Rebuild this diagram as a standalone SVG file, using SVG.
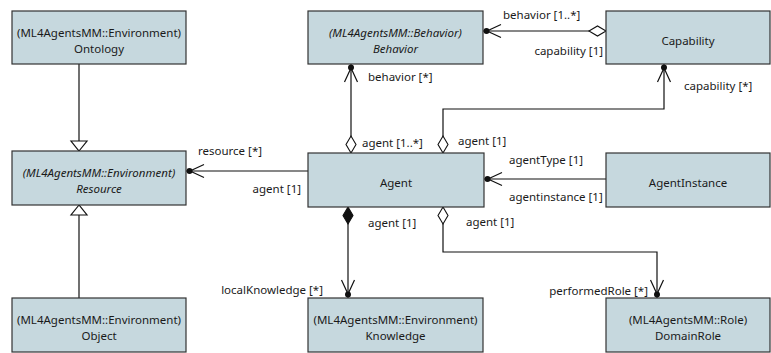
<svg xmlns="http://www.w3.org/2000/svg" width="771" height="353" viewBox="0 0 771 353">
<defs>
<style>
.box{fill:#c6d8de;stroke:#333;stroke-width:1.2}
.t{font-family:"Noto Sans","Liberation Sans",sans-serif;font-size:11.5px;fill:#1a1a1a}
.c{text-anchor:middle}
.e{text-anchor:end}
.i{font-style:italic}
.ln{fill:none;stroke:#111;stroke-width:1.2}
</style>
<marker id="nav" markerUnits="userSpaceOnUse" viewBox="-20 -10 22 20" refX="0" refY="0" markerWidth="22" markerHeight="20" orient="auto" overflow="visible">
<circle cx="-3.5" cy="0" r="3" fill="#111"/>
<path d="M-18,-6.5 L-4,0 L-18,6.5" fill="none" stroke="#111" stroke-width="1.2"/>
</marker>
<marker id="od" markerUnits="userSpaceOnUse" viewBox="-1 -7 20 14" refX="0" refY="0" markerWidth="20" markerHeight="14" orient="auto" overflow="visible">
<path d="M0,0 L8.5,-5 L17,0 L8.5,5 Z" fill="#fff" stroke="#111" stroke-width="1.1"/>
</marker>
<marker id="fd" markerUnits="userSpaceOnUse" viewBox="-1 -7 20 14" refX="0" refY="0" markerWidth="20" markerHeight="14" orient="auto" overflow="visible">
<path d="M0,0 L8.5,-5 L17,0 L8.5,5 Z" fill="#111" stroke="#111" stroke-width="1.1"/>
</marker>
<marker id="gen" markerUnits="userSpaceOnUse" viewBox="-12 -10 14 20" refX="0" refY="0" markerWidth="14" markerHeight="20" orient="auto" overflow="visible">
<path d="M0,0 L-10,-8 L-10,8 Z" fill="#fff" stroke="#111" stroke-width="1.2"/>
</marker>
</defs>
<rect width="771" height="353" fill="#fff"/>
<g id="connectors">
<path class="ln" d="M79,64 L79,151" marker-end="url(#gen)"/>
<path class="ln" d="M79,298 L79,205" marker-end="url(#gen)"/>
<path class="ln" d="M606,31 L483,31" marker-start="url(#od)" marker-end="url(#nav)"/>
<path class="ln" d="M351,153 L351,64" marker-start="url(#od)" marker-end="url(#nav)"/>
<path class="ln" d="M443,153 L443,109 L664,109 L664,64" marker-start="url(#od)" marker-end="url(#nav)"/>
<path class="ln" d="M308,171 L186,171" marker-end="url(#nav)"/>
<path class="ln" d="M606,179 L484,179" marker-end="url(#nav)"/>
<path class="ln" d="M348,207 L348,298" marker-start="url(#fd)" marker-end="url(#nav)"/>
<path class="ln" d="M443,207 L443,252 L657,252 L657,298" marker-start="url(#od)" marker-end="url(#nav)"/>
<text class="t" x="503" y="19">behavior [1..*]</text>
<text class="t e" x="603" y="55">capability [1]</text>
<text class="t" x="368" y="81">behavior [*]</text>
<text class="t" x="362" y="147">agent [1..*]</text>
<text class="t" x="458" y="145">agent [1]</text>
<text class="t" x="684" y="90">capability [*]</text>
<text class="t" x="198" y="155">resource [*]</text>
<text class="t e" x="301" y="193">agent [1]</text>
<text class="t" x="509" y="164">agentType [1]</text>
<text class="t" x="509" y="201">agentinstance [1]</text>
<text class="t" x="368" y="227">agent [1]</text>
<text class="t" x="466" y="226">agent [1]</text>
<text class="t e" x="323" y="294">localKnowledge [*]</text>
<text class="t e" x="648" y="295">performedRole [*]</text>
</g>
<g id="ontology"><rect class="box" x="12" y="11" width="174" height="53"/>
<text class="t c" x="99" y="37">(ML4AgentsMM::Environment)</text><text class="t c" x="99" y="53">Ontology</text></g>
<g id="resource"><rect class="box" x="12" y="151" width="174" height="54"/>
<text class="t c i" x="99" y="177">(ML4AgentsMM::Environment)</text><text class="t c i" x="99" y="193">Resource</text></g>
<g id="object"><rect class="box" x="12" y="298" width="174" height="54"/>
<text class="t c" x="99" y="324">(ML4AgentsMM::Environment)</text><text class="t c" x="99" y="340">Object</text></g>
<g id="behavior"><rect class="box" x="308" y="11" width="175" height="53"/>
<text class="t c i" x="395.5" y="37">(ML4AgentsMM::Behavior)</text><text class="t c i" x="395.5" y="53">Behavior</text></g>
<g id="agent"><rect class="box" x="308" y="153" width="176" height="54"/>
<text class="t c" x="396" y="186.5">Agent</text></g>
<g id="knowledge"><rect class="box" x="308" y="298" width="175" height="54"/>
<text class="t c" x="395.5" y="324">(ML4AgentsMM::Environment)</text><text class="t c" x="395.5" y="340">Knowledge</text></g>
<g id="capability"><rect class="box" x="606" y="11" width="164" height="53"/>
<text class="t c" x="688" y="44.5">Capability</text></g>
<g id="agentinstance"><rect class="box" x="606" y="153" width="164" height="54"/>
<text class="t c" x="688" y="186.5">AgentInstance</text></g>
<g id="domainrole"><rect class="box" x="606" y="298" width="164" height="54"/>
<text class="t c" x="688" y="324">(ML4AgentsMM::Role)</text><text class="t c" x="688" y="340">DomainRole</text></g>
</svg>
